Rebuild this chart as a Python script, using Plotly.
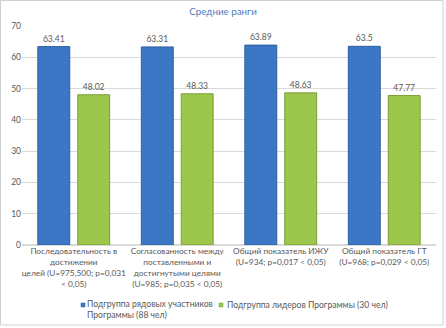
import plotly.graph_objects as go

categories = [
    "Последовательность в<br>достижении<br>целей (U=975,500; p=0,031<br>< 0,05)",
    "Согласованность между<br>поставленными и<br>достигнутыми целями<br>(U=985; p=0,035 < 0,05)",
    "Общий показатель ИЖУ<br>(U=934; p=0,017 < 0,05)",
    "Общий показатель ГТ<br>(U=968; p=0,029 < 0,05)",
]
series1_name = "Подгруппа рядовых участников<br>Программы (88 чел)"
series2_name = "Подгруппа лидеров Программы (30 чел)"
series1 = [63.41, 63.31, 63.89, 63.5]
series2 = [48.02, 48.33, 48.63, 47.77]
y_ticks = [0, 10, 20, 30, 40, 50, 60, 70]

font_family = "Lato, Noto Sans, sans-serif"
text_color = "#595959"
c1, c1l = "#3C77C6", "#2C5F9E"
c2, c2l = "#9DC64C", "#7A9E35"

W, H = 446, 328
ML, MR, MT, MB = 22, 10, 26, 83
PW, PH = W - ML - MR, H - MT - MB


def px(x):
    return (x - ML) / PW


def py(y):
    return (H - MB - y) / PH


fig = go.Figure()
fig.add_trace(go.Bar(
    x=categories, y=series1, name=series1_name, showlegend=False,
    marker=dict(color=c1, line=dict(color=c1l, width=1)),
    text=[str(v) for v in series1], textposition="outside",
    textfont=dict(size=8.5, color=text_color, family=font_family),
    cliponaxis=False,
))
fig.add_trace(go.Bar(
    x=categories, y=series2, name=series2_name, showlegend=False,
    marker=dict(color=c2, line=dict(color=c2l, width=1)),
    text=[str(v) for v in series2], textposition="outside",
    textfont=dict(size=8.5, color=text_color, family=font_family),
    cliponaxis=False,
))

fig.update_layout(
    width=W, height=H,
    margin=dict(l=ML, r=MR, t=MT, b=MB, autoexpand=False),
    paper_bgcolor="white", plot_bgcolor="white",
    barmode="group", bargap=0.229, bargroupgap=0.2,
    font=dict(family=font_family, size=8.5, color=text_color),
    title=dict(text="Средние ранги", x=0.5, xanchor="center", y=1 - 12 / H, yanchor="middle",
               font=dict(size=9.8, color="#4F7CBA", family=font_family)),
    showlegend=False,
    xaxis=dict(showgrid=False, showline=False, ticks="", automargin=False,
               tickfont=dict(size=8.3, color=text_color), tickangle=0),
    yaxis=dict(range=[0, 70], tickvals=y_ticks, showgrid=True, gridcolor="#D9D9D9",
               gridwidth=1, zeroline=True, zerolinecolor="#D9D9D9", showline=False,
               automargin=False, tickfont=dict(size=8.5, color=text_color)),
)

# legend drawn as annotations with small square keys
legend_items = [
    (series1_name, c1, c1l, 81, 85, 309.5),
    (series2_name, c2, c2l, 219, 225, 305),
]
for name, c, cl, kx, tx, ty in legend_items:
    fig.add_shape(type="rect", xref="paper", yref="paper",
                  x0=px(kx), x1=px(kx + 4), y0=py(307), y1=py(303),
                  fillcolor=c, line=dict(color=cl, width=0.5))
    fig.add_annotation(text=name, xref="paper", yref="paper", x=px(tx), y=py(ty),
                       xanchor="left", yanchor="middle", align="left", showarrow=False,
                       font=dict(size=8.6, color=text_color, family=font_family))

fig.add_shape(type="rect", xref="paper", yref="paper",
              x0=px(0.5), x1=px(443), y0=py(325), y1=py(0.5),
              line=dict(color="#D0D0D0", width=1))
fig.write_html("out.html", config={"displayModeBar": False},
               post_script="document.body.style.margin='0';document.body.style.overflow='hidden';")
